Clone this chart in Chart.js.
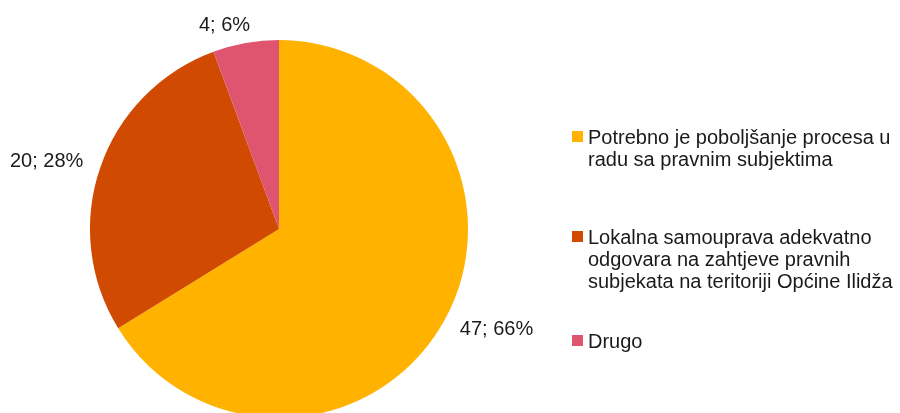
<!DOCTYPE html>
<html>
<head>
<meta charset="utf-8">
<script src="https://cdn.jsdelivr.net/npm/chart.js@4"></script>
<style>
  html, body { margin: 0; padding: 0; background: #fff; overflow: hidden; }
  #stage { position: relative; width: 900px; height: 413px; overflow: hidden; }
  #wrap { position: absolute; left: 0; top: 0; width: 900px; height: 460px; }
  #legend { position: absolute; left: 0; top: 0; width: 900px; height: 413px; pointer-events: none;
            font-family: "Liberation Sans", Arial, sans-serif; font-size: 20px; line-height: 22px; color: #1a1a1a; }
  .item { position: absolute; left: 588px; white-space: nowrap; }
  .mark { position: absolute; left: -16px; top: 5px; width: 11px; height: 11px; }
</style>
</head>
<body>
<div id="stage">
  <div id="wrap"><canvas id="c" width="900" height="460"></canvas></div>
  <div id="legend"></div>
</div>
<script>
const categories = [
  ["Potrebno je poboljšanje procesa u", "radu sa pravnim subjektima"],
  ["Lokalna samouprava adekvatno", "odgovara na zahtjeve pravnih", "subjekata na teritoriji Općine Ilidža"],
  ["Drugo"]
];
const values = [47, 20, 4];
const colors = ["#FFB300", "#D04A02", "#DF5570"];

const total = values.reduce((a, b) => a + b, 0);
const labelFont = '20px "Liberation Sans", Arial, sans-serif';

const outsideLabels = {
  id: 'outsideLabels',
  afterDatasetsDraw(chart) {
    const ctx = chart.ctx;
    const meta = chart.getDatasetMeta(0);
    ctx.save();
    ctx.font = labelFont;
    ctx.fillStyle = '#1a1a1a';
    ctx.textBaseline = 'middle';
    ctx.textAlign = 'center';
    meta.data.forEach((arc, i) => {
      const p = arc.getProps(['x', 'y', 'startAngle', 'endAngle', 'outerRadius'], true);
      const mid = (p.startAngle + p.endAngle) / 2;
      const d = p.outerRadius + 18;
      const ax = p.x + Math.cos(mid) * d;
      const ay = p.y + Math.sin(mid) * d;
      const txt = values[i] + '; ' + Math.round(values[i] / total * 100) + '%';
      const w = ctx.measureText(txt).width;
      const c = Math.cos(mid);
      const cx = ax + Math.sign(c) * Math.min(1, Math.abs(c) * 4) * w / 2;
      ctx.fillText(txt, cx, ay);
    });
    ctx.restore();
  }
};

new Chart(document.getElementById('c'), {
  type: 'pie',
  data: {
    labels: categories,
    datasets: [{
      data: values,
      backgroundColor: colors,
      borderWidth: 0
    }]
  },
  options: {
    responsive: false,
    animation: false,
    devicePixelRatio: 1,
    layout: { padding: { left: 90, right: 432, top: 40, bottom: 42 } },
    plugins: {
      legend: { display: false },
      tooltip: { enabled: false }
    }
  },
  plugins: [outsideLabels]
});

// HTML legend built from the data arrays
const legendTops = [126, 226, 330];
const legend = document.getElementById('legend');
categories.forEach((lines, i) => {
  const item = document.createElement('div');
  item.className = 'item';
  item.style.top = legendTops[i] + 'px';
  const mark = document.createElement('div');
  mark.className = 'mark';
  mark.style.background = colors[i];
  item.appendChild(mark);
  lines.forEach((ln, j) => {
    if (j > 0) item.appendChild(document.createElement('br'));
    item.appendChild(document.createTextNode(ln));
  });
  legend.appendChild(item);
});
</script>
</body>
</html>
